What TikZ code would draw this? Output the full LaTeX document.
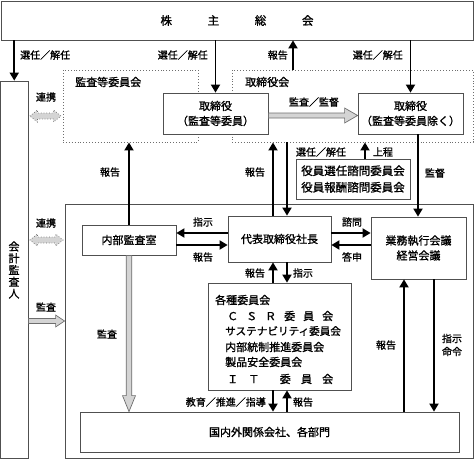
\documentclass[tikz,border=0pt]{standalone}
\usepackage{fontspec}
\setmainfont{Noto Sans CJK JP}[FakeBold=1.2]
\usetikzlibrary{arrows.meta,calc}
\definecolor{bx}{HTML}{505050}
\definecolor{gfill}{HTML}{D4D4D4}
\definecolor{gline}{HTML}{6E6E6E}
\newcommand\gRight[4]{\draw[garrow] let \p1=#1, \p2=#2 in
 (\x1,\y1+2.5pt) -- (\x2-#3,\y1+2.5pt) -- (\x2-#3,\y1+#4) -- (\x2,\y1) -- (\x2-#3,\y1-#4) -- (\x2-#3,\y1-2.5pt) -- (\x1,\y1-2.5pt) -- cycle;}
\newcommand\gDown[4]{\draw[garrow] let \p1=#1, \p2=#2 in
 (\x1-2.8pt,\y1) -- (\x1-2.8pt,\y2+#3) -- (\x1-#4,\y2+#3) -- (\x1,\y2) -- (\x1+#4,\y2+#3) -- (\x1+2.8pt,\y2+#3) -- (\x1+2.8pt,\y1) -- cycle;}
\newcommand\gDouble[2]{\draw[garrowd] let \p1=#1, \p2=#2 in
 (\x1+1.5pt,\y1) -- (\x1+9pt,\y1+6pt) -- (\x1+9pt,\y1+3pt) -- (\x2-9pt,\y1+3pt) -- (\x2-9pt,\y1+6pt) -- (\x2-1.5pt,\y1) -- (\x2-9pt,\y1-6pt) -- (\x2-9pt,\y1-3pt) -- (\x1+9pt,\y1-3pt) -- (\x1+9pt,\y1-6pt) -- cycle;}
\begin{document}
\begin{tikzpicture}[x=1pt,y=-1pt,
 box/.style={draw=bx,line width=0.8pt,inner sep=0pt,font=\fontsize{11}{15}\selectfont,align=center},
 dbox/.style={draw=gline,dotted,line width=0.9pt,inner sep=0pt},
 lbl/.style={font=\fontsize{10}{13}\selectfont,inner sep=0pt},
 ktxt/.style={font=\fontsize{11}{13}\selectfont,inner sep=0pt,anchor=west},
 barrow/.style={line width=1.8pt,-{Triangle[width=9pt,length=8pt]}},
 garrow/.style={draw=gline,fill=gfill,line width=0.7pt},
 garrowd/.style={draw=gline,fill=gfill,line width=0.7pt,dotted}]
\useasboundingbox (0,0) rectangle (474,460);
% boxes
\node[box,minimum width=472pt,minimum height=39pt,font=\fontsize{11.5}{14}\selectfont] (gm) at (237,20.5) {\makebox[153pt][s]{株\hfil 主\hfil 総\hfil 会}};
\node[box,minimum width=27.5pt,minimum height=377pt] (gk) at (14.25,269.5) {};
\node[font=\fontsize{11}{11.8}\selectfont,align=center,inner sep=0pt] (gkt) at (14,270) {会\\計\\監\\査\\人};
\node[dbox,minimum width=135pt,minimum height=72pt] (ac) at (130.5,106) {};
\node[dbox,minimum width=241pt,minimum height=72pt] (bd) at (352.5,106) {};
\node[ktxt] (acl) at (75,82) {監査等委員会};
\node[ktxt] (bdl) at (245,82) {取締役会};
\node[box,fill=white,minimum width=105pt,minimum height=41pt] (dir1) at (215.5,113.5) {取締役\\（監査等委員）};
\node[box,fill=white,minimum width=105pt,minimum height=41pt] (dir2) at (410.5,113.5) {取締役\\（監査等委員除く）};
\node[box,minimum width=408pt,minimum height=254pt] (lower) at (269,331) {};
\node[box,minimum width=114pt,minimum height=40pt,font=\fontsize{11.5}{16.5}\selectfont] (adv) at (353,179) {役員選任諮問委員会\\役員報酬諮問委員会};
\node[box,fill=white,minimum width=94pt,minimum height=30pt] (ia) at (129,240) {内部監査室};
\node[box,fill=white,minimum width=103pt,minimum height=46pt] (pres) at (279.5,239) {代表取締役社長};
\node[box,fill=white,minimum width=95pt,minimum height=62pt] (mtg) at (418.5,248) {業務執行会議\\経営会議};
\node[box,fill=white,minimum width=143pt,minimum height=107pt] (ko) at (279.5,336.5) {};
\node[ktxt] (k1) at (215,300) {各種委員会};
\node[ktxt] (k2) at (227,316) {\makebox[106pt][s]{Ｃ\hfil Ｓ\hfil Ｒ\hfil 委\hfil 員\hfil 会}};
\node[ktxt,font=\fontsize{10.6}{13}\selectfont] (k3) at (225,331) {サステナビリティ委員会};
\node[ktxt] (k4) at (225,347) {内部統制推進委員会};
\node[ktxt] (k5) at (225,362) {製品安全委員会};
\node[ktxt] (k6) at (227,379) {\makebox[106pt][s]{Ｉ\hfil Ｔ\hfil\hfil 委\hfil 員\hfil 会}};
\node[box,fill=white,minimum width=379pt,minimum height=40pt] (sub) at (269.5,432) {国内外関係会社、各部門};
% helper coordinates
\coordinate (xa) at (273,0); \coordinate (xb) at (287,0); \coordinate (xc) at (293,0);
\coordinate (xd) at (365,0); \coordinate (xe) at (418,0); \coordinate (xf) at (404,0);
\coordinate (xg) at (434,0);
\coordinate (ya) at (0,233); \coordinate (yb) at (0,245); \coordinate (yc) at (0,116);
\coordinate (yd) at (0,240); \coordinate (ye) at (0,321); \coordinate (yf) at (0,115.5);
% black arrows
\draw[barrow] (gk.north |- gm.south) -- (gk.north);
\draw[barrow] (dir1.north |- gm.south) -- (dir1.north);
\draw[barrow] (bd.north -| xc) -- (gm.south -| xc);
\draw[barrow] (dir2.north |- gm.south) -- (dir2.north);
\draw[barrow] (ia.north) -- (ac.south -| ia.north);
\draw[barrow] (pres.north -| xa) -- (bd.south -| xa);
\draw[barrow] (bd.south -| xb) -- (pres.north -| xb);
\draw[barrow] (adv.north -| xd) -- (bd.south -| xd);
\draw[barrow] (dir2.south -| xe) -- (mtg.north -| xe);
\draw[barrow] (pres.west |- ya) -- (ia.east |- ya);
\draw[barrow] (ia.east |- yb) -- (pres.west |- yb);
\draw[barrow] (pres.east |- ya) -- (mtg.west |- ya);
\draw[barrow] (mtg.west |- yb) -- (pres.east |- yb);
\draw[barrow] (ko.north -| xa) -- (pres.south -| xa);
\draw[barrow] (pres.south -| xb) -- (ko.north -| xb);
\draw[barrow] (ko.south -| xa) -- (sub.north -| xa);
\draw[barrow] (sub.north -| xb) -- (ko.south -| xb);
\draw[barrow] (sub.north -| xf) -- (mtg.south -| xf);
\draw[barrow] (mtg.south -| xg) -- (sub.north -| xg);
% gray arrows
\gDouble{(gk.east |- yc)}{(ac.west |- yc)}
\gRight{(dir1.east |- yf)}{(dir2.west |- yf)}{13pt}{7.5pt}
\gDouble{(gk.east |- yd)}{(lower.west |- yd)}
\gRight{(gk.east |- ye)}{(lower.west |- ye)}{9pt}{6pt}
\gDown{(ia.south)}{(sub.north -| ia.south)}{16pt}{6.5pt}
% labels
\node[lbl,anchor=west] (l1) at (20,55) {選任／解任};
\node[lbl,anchor=east] (l2) at (208,55) {選任／解任};
\node[lbl,anchor=east] (l3) at (288,55) {報告};
\node[lbl,anchor=east] (l4) at (403,55) {選任／解任};
\node[lbl] (l5) at (46,97) {連携};
\node[lbl] (l6) at (314,102) {監査／監督};
\node[lbl] (l7) at (110,172) {報告};
\node[lbl] (l8) at (255,172) {報告};
\node[lbl] (l9) at (321,152) {選任／解任};
\node[lbl] (l10) at (383,152) {上程};
\node[lbl] (l11) at (435,173) {監督};
\node[lbl] (l12) at (46,223) {連携};
\node[lbl] (l13) at (203,222) {指示};
\node[lbl] (l14) at (203,257) {報告};
\node[lbl] (l15) at (352,222) {諮問};
\node[lbl] (l16) at (352,257) {答申};
\node[lbl] (l17) at (255,273) {報告};
\node[lbl] (l18) at (303,273) {指示};
\node[lbl] (l19) at (46,307) {監査};
\node[lbl] (l20) at (107,334) {監査};
\node[lbl] (l21) at (386,345) {報告};
\node[lbl,align=center] (l22) at (452,345) {指示\\命令};
\node[lbl,anchor=east] (l23) at (266,402) {教育／推進／指導};
\node[lbl] (l24) at (303,402) {報告};
\end{tikzpicture}
\end{document}
